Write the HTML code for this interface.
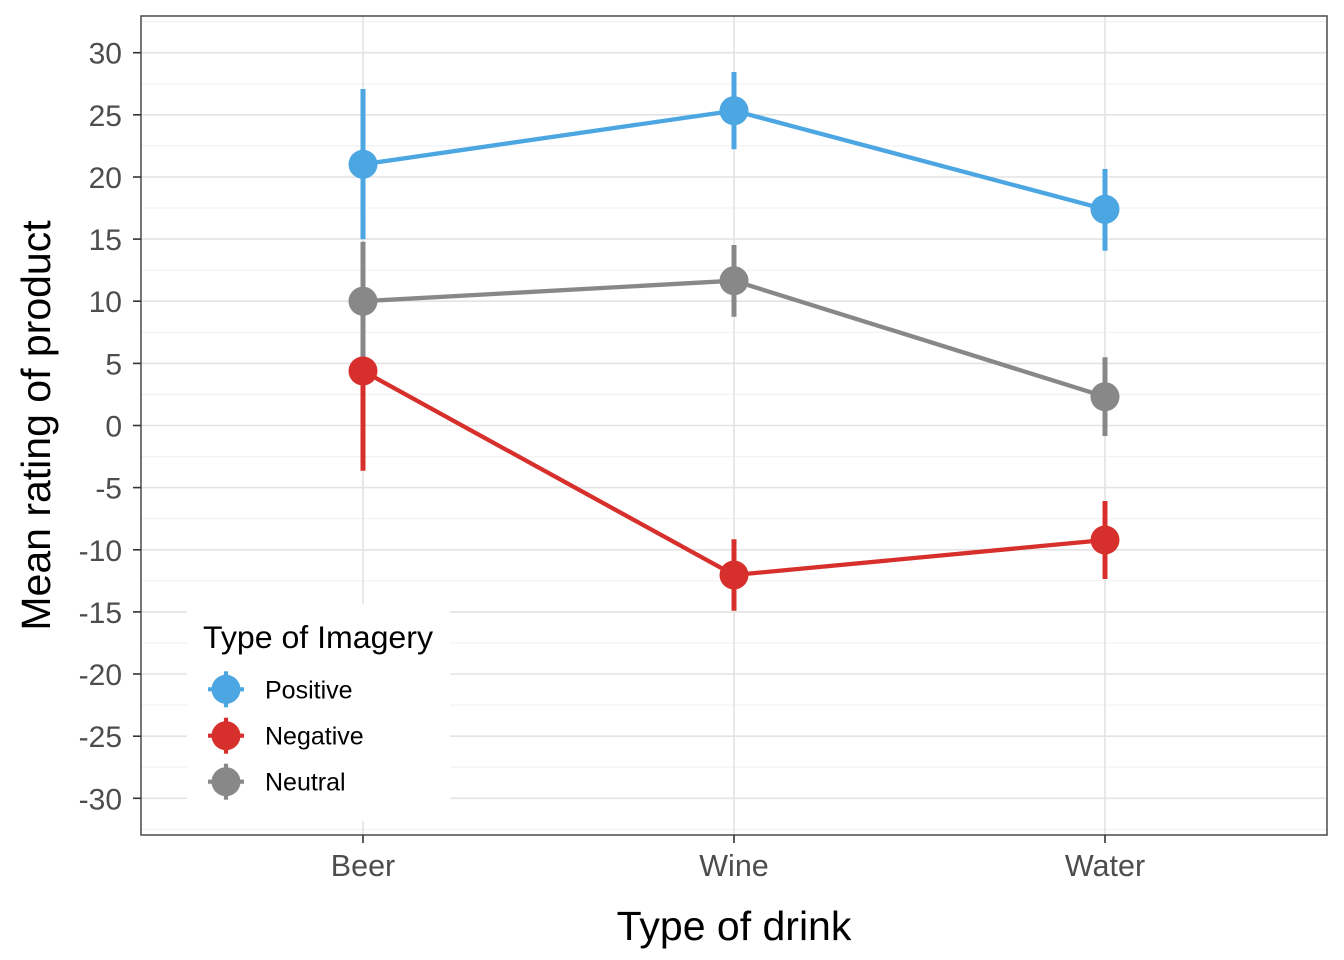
<!DOCTYPE html>
<html>
<head>
<meta charset="utf-8">
<style>
  html,body{margin:0;padding:0;background:#fff;}
  svg{display:block;font-family:"Liberation Sans",Arial,sans-serif;}
</style>
</head>
<body>
<svg width="1344" height="960" viewBox="0 0 1344 960" xmlns="http://www.w3.org/2000/svg">
  <rect x="0" y="0" width="1344" height="960" fill="#fff"/>
  <!-- panel background -->
  <rect x="141" y="16" width="1186" height="819" fill="#fff"/>
  <!-- minor grid -->
  <g stroke="#f2f2f2" stroke-width="1.2">
    <line x1="141" x2="1327" y1="21.6" y2="21.6"/>
    <line x1="141" x2="1327" y1="83.8" y2="83.8"/>
    <line x1="141" x2="1327" y1="145.9" y2="145.9"/>
    <line x1="141" x2="1327" y1="208.0" y2="208.0"/>
    <line x1="141" x2="1327" y1="270.2" y2="270.2"/>
    <line x1="141" x2="1327" y1="332.3" y2="332.3"/>
    <line x1="141" x2="1327" y1="394.4" y2="394.4"/>
    <line x1="141" x2="1327" y1="456.6" y2="456.6"/>
    <line x1="141" x2="1327" y1="518.7" y2="518.7"/>
    <line x1="141" x2="1327" y1="580.8" y2="580.8"/>
    <line x1="141" x2="1327" y1="643.0" y2="643.0"/>
    <line x1="141" x2="1327" y1="705.1" y2="705.1"/>
    <line x1="141" x2="1327" y1="767.2" y2="767.2"/>
    <line x1="141" x2="1327" y1="829.4" y2="829.4"/>
  </g>
  <!-- major grid -->
  <g stroke="#e3e3e3" stroke-width="1.6">
    <line x1="141" x2="1327" y1="52.7" y2="52.7"/>
    <line x1="141" x2="1327" y1="114.8" y2="114.8"/>
    <line x1="141" x2="1327" y1="177.0" y2="177.0"/>
    <line x1="141" x2="1327" y1="239.1" y2="239.1"/>
    <line x1="141" x2="1327" y1="301.2" y2="301.2"/>
    <line x1="141" x2="1327" y1="363.4" y2="363.4"/>
    <line x1="141" x2="1327" y1="425.5" y2="425.5"/>
    <line x1="141" x2="1327" y1="487.6" y2="487.6"/>
    <line x1="141" x2="1327" y1="549.8" y2="549.8"/>
    <line x1="141" x2="1327" y1="611.9" y2="611.9"/>
    <line x1="141" x2="1327" y1="674.0" y2="674.0"/>
    <line x1="141" x2="1327" y1="736.2" y2="736.2"/>
    <line x1="141" x2="1327" y1="798.3" y2="798.3"/>
    <line x1="363" x2="363" y1="16" y2="835"/>
    <line x1="734" x2="734" y1="16" y2="835"/>
    <line x1="1105" x2="1105" y1="16" y2="835"/>
  </g>

  <!-- lines -->
  <g fill="none" stroke-width="4.3" stroke-linejoin="round">
    <polyline points="363,164.3 734,110.7 1105,209.3" stroke="#4BA6E2"/>
    <polyline points="363,371 734,575 1105,540" stroke="#D7302C"/>
    <polyline points="363,301.2 734,280.7 1105,396.7" stroke="#888888"/>
  </g>
  <!-- error bars -->
  <g stroke-width="5">
    <line x1="363" x2="363" y1="89" y2="239.3" stroke="#4BA6E2"/>
    <line x1="734" x2="734" y1="72" y2="149.3" stroke="#4BA6E2"/>
    <line x1="1105" x2="1105" y1="169" y2="250.7" stroke="#4BA6E2"/>
    <line x1="363" x2="363" y1="271" y2="470.7" stroke="#D7302C"/>
    <line x1="734" x2="734" y1="539.3" y2="610.7" stroke="#D7302C"/>
    <line x1="1105" x2="1105" y1="501" y2="579" stroke="#D7302C"/>
    <line x1="363" x2="363" y1="241.7" y2="360.7" stroke="#888888"/>
    <line x1="734" x2="734" y1="245" y2="316.7" stroke="#888888"/>
    <line x1="1105" x2="1105" y1="357.3" y2="436" stroke="#888888"/>
  </g>
  <!-- points -->
  <g>
    <circle cx="363" cy="164.3" r="14.5" fill="#4BA6E2"/>
    <circle cx="734" cy="110.7" r="14.5" fill="#4BA6E2"/>
    <circle cx="1105" cy="209.3" r="14.5" fill="#4BA6E2"/>
    <circle cx="363" cy="371" r="14.5" fill="#D7302C"/>
    <circle cx="734" cy="575" r="14.5" fill="#D7302C"/>
    <circle cx="1105" cy="540" r="14.5" fill="#D7302C"/>
    <circle cx="363" cy="301.2" r="14.5" fill="#888888"/>
    <circle cx="734" cy="280.7" r="14.5" fill="#888888"/>
    <circle cx="1105" cy="396.7" r="14.5" fill="#888888"/>
  </g>

  <!-- legend -->
  <rect x="187" y="604" width="263" height="217" fill="#fff"/>
  <text x="203" y="648" font-size="31.5" fill="#000" textLength="230" lengthAdjust="spacingAndGlyphs">Type of Imagery</text>
  <g stroke-width="4.2">
    <line x1="208" x2="244" y1="689.3" y2="689.3" stroke="#4BA6E2"/>
    <line x1="226" x2="226" y1="671.3" y2="707.3" stroke="#4BA6E2"/>
    <line x1="208" x2="244" y1="735.7" y2="735.7" stroke="#D7302C"/>
    <line x1="226" x2="226" y1="717.7" y2="753.7" stroke="#D7302C"/>
    <line x1="208" x2="244" y1="781.7" y2="781.7" stroke="#888888"/>
    <line x1="226" x2="226" y1="763.7" y2="799.7" stroke="#888888"/>
  </g>
  <circle cx="226" cy="689.3" r="14.5" fill="#4BA6E2"/>
  <circle cx="226" cy="735.7" r="14.5" fill="#D7302C"/>
  <circle cx="226" cy="781.7" r="14.5" fill="#888888"/>
  <g font-size="25" fill="#000">
    <text x="265" y="698.3">Positive</text>
    <text x="265" y="744.6">Negative</text>
    <text x="265" y="790.6">Neutral</text>
  </g>

  <!-- panel border -->
  <rect x="141" y="16" width="1186" height="819" fill="none" stroke="#555" stroke-width="1.6"/>

  <!-- ticks -->
  <g stroke="#333" stroke-width="1.6">
    <line x1="133" x2="141" y1="52.7" y2="52.7"/>
    <line x1="133" x2="141" y1="114.8" y2="114.8"/>
    <line x1="133" x2="141" y1="177.0" y2="177.0"/>
    <line x1="133" x2="141" y1="239.1" y2="239.1"/>
    <line x1="133" x2="141" y1="301.2" y2="301.2"/>
    <line x1="133" x2="141" y1="363.4" y2="363.4"/>
    <line x1="133" x2="141" y1="425.5" y2="425.5"/>
    <line x1="133" x2="141" y1="487.6" y2="487.6"/>
    <line x1="133" x2="141" y1="549.8" y2="549.8"/>
    <line x1="133" x2="141" y1="611.9" y2="611.9"/>
    <line x1="133" x2="141" y1="674.0" y2="674.0"/>
    <line x1="133" x2="141" y1="736.2" y2="736.2"/>
    <line x1="133" x2="141" y1="798.3" y2="798.3"/>
    <line x1="363" x2="363" y1="835" y2="843"/>
    <line x1="734" x2="734" y1="835" y2="843"/>
    <line x1="1105" x2="1105" y1="835" y2="843"/>
  </g>
  <g font-size="30" fill="#4d4d4d" text-anchor="end">
    <text x="122" y="63.7">30</text>
    <text x="122" y="125.8">25</text>
    <text x="122" y="188.0">20</text>
    <text x="122" y="250.1">15</text>
    <text x="122" y="312.2">10</text>
    <text x="122" y="374.4">5</text>
    <text x="122" y="436.5">0</text>
    <text x="122" y="498.6">-5</text>
    <text x="122" y="560.8">-10</text>
    <text x="122" y="622.9">-15</text>
    <text x="122" y="685.0">-20</text>
    <text x="122" y="747.2">-25</text>
    <text x="122" y="809.3">-30</text>
  </g>
  <g font-size="30.5" fill="#4d4d4d" text-anchor="middle">
    <text x="363" y="876">Beer</text>
    <text x="734" y="876">Wine</text>
    <text x="1105" y="876">Water</text>
  </g>

  <!-- axis titles -->
  <text x="734" y="940" font-size="41" fill="#000" text-anchor="middle">Type of drink</text>
  <text transform="translate(50,425.5) rotate(-90)" font-size="41" fill="#000" text-anchor="middle">Mean rating of product</text>
</svg>
</body>
</html>
